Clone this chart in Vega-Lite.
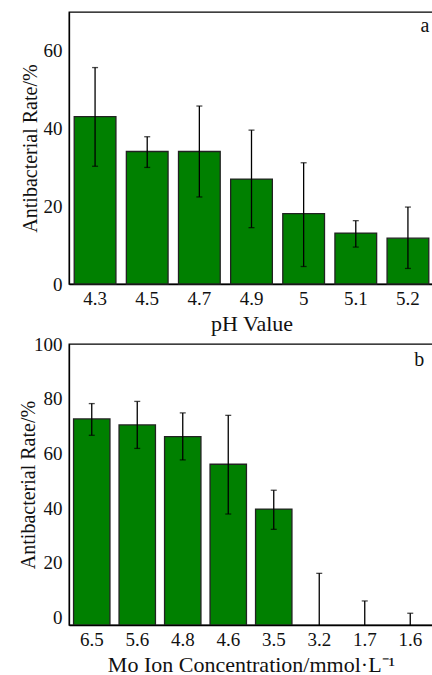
{
  "$schema": "https://vega.github.io/schema/vega-lite/v6.json",
  "padding": {"left": 17, "top": 11, "right": 0, "bottom": 0},
  "background": "white",
  "config": {
    "font": "Liberation Serif",
    "view": {"stroke": "black", "strokeWidth": 1.3},
    "axis": {
      "labelFont": "Liberation Serif",
      "titleFont": "Liberation Serif",
      "labelFontSize": 19,
      "titleFontSize": 20,
      "titleFontWeight": "normal",
      "labelColor": "#111",
      "titleColor": "#111",
      "domainColor": "black",
      "domainWidth": 1.3,
      "tickColor": "black",
      "tickWidth": 1.2,
      "tickSize": 0,
      "grid": false,
      "zindex": 1
    },
    "axisY": {"labelPadding": 7, "titlePadding": 3, "encode": {"ticks": {"update": {"x2": {"value": 5}}}}},
    "axisX": {"labelPadding": 5, "titlePadding": 5, "labelAngle": 0, "titleFontSize": 22, "encode": {"ticks": {"update": {"y2": {"value": -5}}}}}
  },
  "bounds": "flush",
  "spacing": 60,
  "vconcat": [
    {
      "width": 365,
      "height": 272,
      "data": {"values": [
        {"pH": "4.3", "rate": 43.1, "lo": 30.3, "hi": 55.7},
        {"pH": "4.5", "rate": 34.1, "lo": 30.0, "hi": 37.9},
        {"pH": "4.7", "rate": 34.1, "lo": 22.4, "hi": 45.8},
        {"pH": "4.9", "rate": 27.0, "lo": 14.5, "hi": 39.6},
        {"pH": "5", "rate": 18.1, "lo": 4.5, "hi": 31.2},
        {"pH": "5.1", "rate": 13.1, "lo": 9.5, "hi": 16.3},
        {"pH": "5.2", "rate": 11.8, "lo": 4.0, "hi": 19.8}
      ]},
      "encoding": {
        "x": {"field": "pH", "type": "nominal", "sort": null, "title": "pH Value",
              "scale": {"paddingInner": 0.2, "paddingOuter": 0.1}}
      },
      "layer": [
        {
          "mark": {"type": "bar", "color": "#008000", "stroke": "#222", "strokeWidth": 1.3},
          "encoding": {
            "y": {"field": "rate", "type": "quantitative", "title": "Antibacterial Rate/%",
                  "scale": {"domain": [0, 70], "nice": false},
                  "axis": {"values": [0, 20, 40, 60]}}
          }
        },
        {
          "mark": {"type": "rule", "color": "black", "strokeWidth": 1.3},
          "encoding": {"y": {"field": "lo", "type": "quantitative"}, "y2": {"field": "hi"}}
        },
        {
          "mark": {"type": "tick", "color": "black", "size": 6, "thickness": 1.3},
          "encoding": {"y": {"field": "hi", "type": "quantitative"}}
        },
        {
          "mark": {"type": "tick", "color": "black", "size": 6, "thickness": 1.3},
          "encoding": {"y": {"field": "lo", "type": "quantitative"}}
        },
        {
          "data": {"values": [{"label": "a"}]},
          "mark": {"type": "text", "font": "Liberation Serif", "fontSize": 20, "dx": 17, "color": "#111"},
          "encoding": {
            "x": {"datum": "5.2"},
            "y": {"datum": 66.5},
            "text": {"field": "label"}
          }
        }
      ]
    },
    {
      "width": 364,
      "height": 281,
      "data": {"values": [
        {"conc": "6.5", "rate": 72.6, "lo": 66.6, "hi": 78.2},
        {"conc": "5.6", "rate": 70.4, "lo": 61.8, "hi": 79.0},
        {"conc": "4.8", "rate": 66.1, "lo": 57.6, "hi": 74.8},
        {"conc": "4.6", "rate": 56.0, "lo": 37.8, "hi": 73.9},
        {"conc": "3.5", "rate": 39.6, "lo": 32.2, "hi": 46.5},
        {"conc": "3.2", "rate": null, "lo": -26, "hi": 16.1},
        {"conc": "1.7", "rate": null, "lo": -16, "hi": 6.0},
        {"conc": "1.6", "rate": null, "lo": -11.5, "hi": 1.5}
      ]},
      "encoding": {
        "x": {"field": "conc", "type": "nominal", "sort": null, "title": "Mo Ion Concentration/mmol·L⁻¹",
              "scale": {"paddingInner": 0.2, "paddingOuter": 0.1}}
      },
      "layer": [
        {
          "mark": {"type": "bar", "color": "#008000", "stroke": "#222", "strokeWidth": 1.3, "clip": true},
          "encoding": {
            "y": {"field": "rate", "type": "quantitative", "title": "Antibacterial Rate/%",
                  "scale": {"domain": [-2.8, 100], "nice": false, "zero": false},
                  "axis": {"values": [0, 20, 40, 60, 80, 100], "titlePadding": -5}},
            "y2": {"datum": -2.8}
          }
        },
        {
          "mark": {"type": "rule", "color": "black", "strokeWidth": 1.3, "clip": true},
          "encoding": {"y": {"field": "lo", "type": "quantitative"}, "y2": {"field": "hi"}}
        },
        {
          "mark": {"type": "tick", "color": "black", "size": 6, "thickness": 1.3, "clip": true},
          "encoding": {"y": {"field": "hi", "type": "quantitative"}}
        },
        {
          "mark": {"type": "tick", "color": "black", "size": 6, "thickness": 1.3, "clip": true},
          "encoding": {"y": {"field": "lo", "type": "quantitative"}}
        },
        {
          "data": {"values": [{"label": "b"}]},
          "mark": {"type": "text", "font": "Liberation Serif", "fontSize": 20, "dx": 9, "color": "#111"},
          "encoding": {
            "x": {"datum": "1.6"},
            "y": {"datum": 94},
            "text": {"field": "label"}
          }
        }
      ]
    }
  ]
}
